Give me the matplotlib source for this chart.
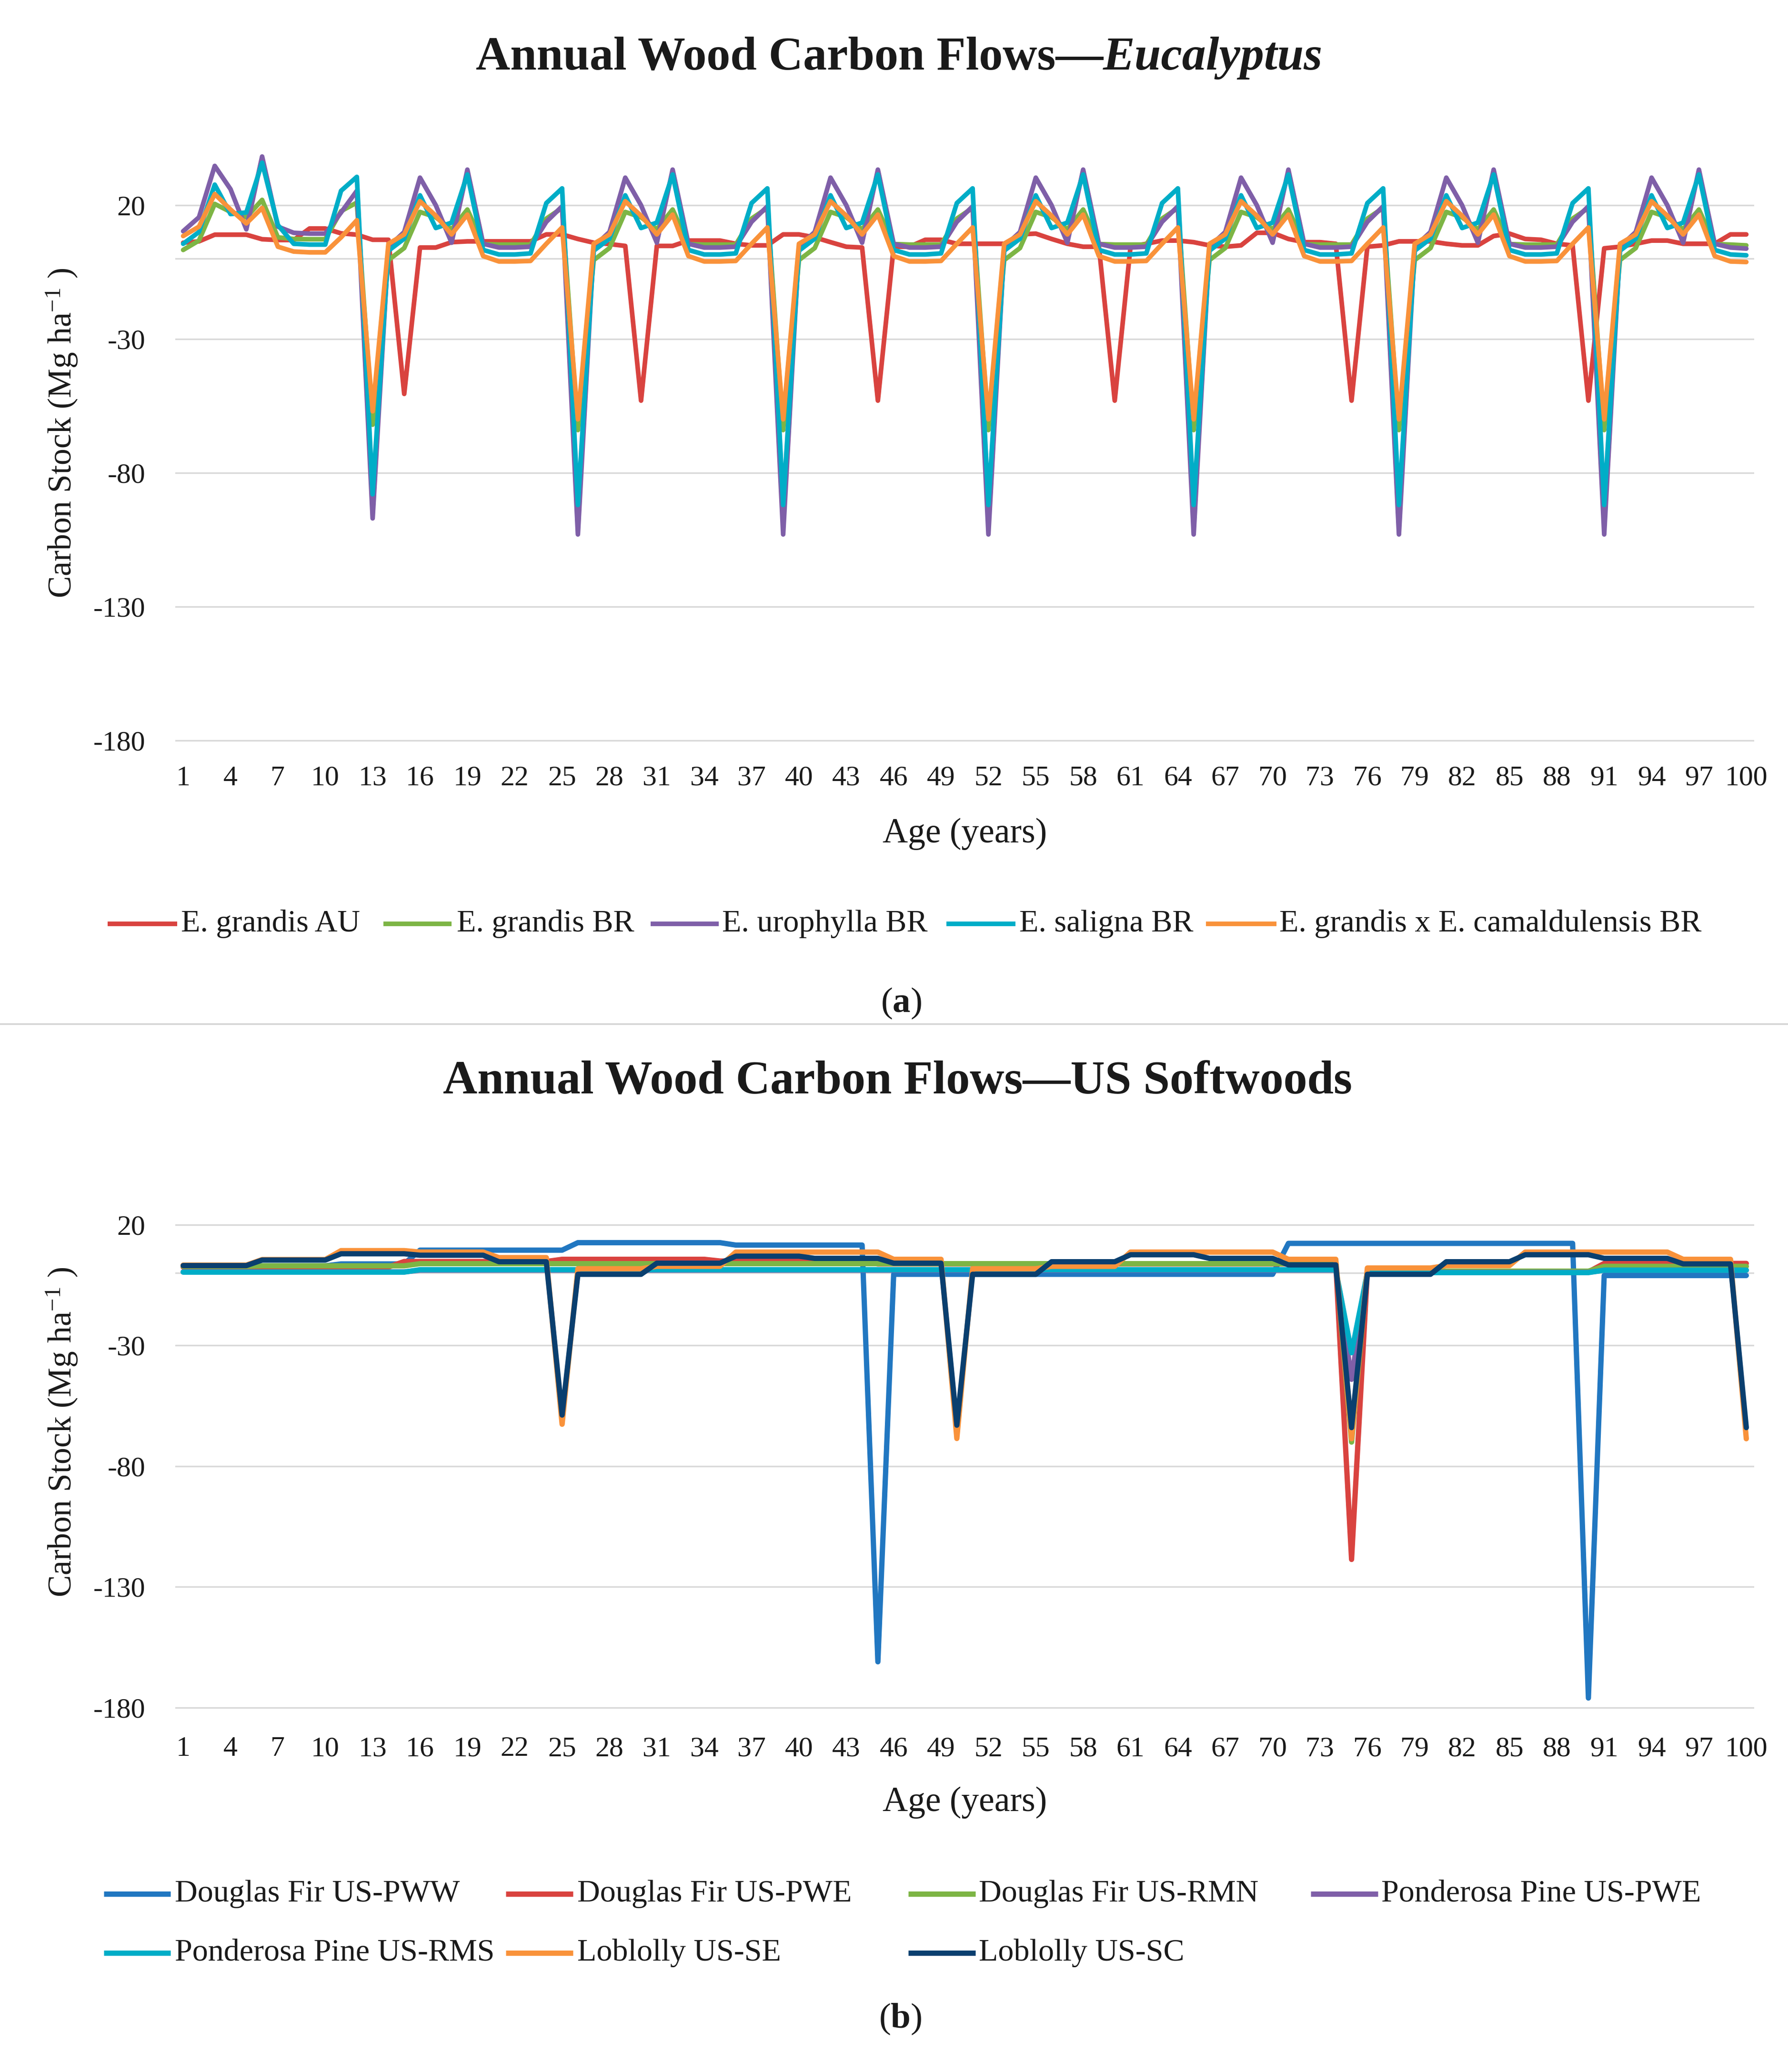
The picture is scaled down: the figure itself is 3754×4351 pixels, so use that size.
import matplotlib
matplotlib.use('Agg')
import numpy as np
import matplotlib.pyplot as plt
from matplotlib.lines import Line2D

# fonts - Palatino-ish look, closest we have is Liberation Serif
plt.rcParams['font.family'] = 'Liberation Serif'
plt.rcParams['mathtext.fontset'] = 'custom'
plt.rcParams['mathtext.rm'] = 'Liberation Serif'
plt.rcParams['mathtext.bf'] = 'Liberation Serif:bold'
plt.rcParams['mathtext.it'] = 'Liberation Serif:italic'
plt.rcParams['axes.unicode_minus'] = False

# ---------------- data ----------------
ages = np.arange(1, 101)
ytick_vals = [-180, -130, -80, -30, 20]

# (a) Eucalyptus, Mg ha-1 per year
grandis_au = [
    6.0, 6.5, 9.0, 9.0, 9.0, 7.3, 7.0, 7.0, 11.3, 11.3, 9.5, 9.0, 7.1, 7.1, -50.5,
    4.2, 4.2, 6.2, 6.5, 6.5, 6.5, 6.5, 6.5, 9.1, 9.1, 7.4, 6.0, 5.5, 4.8, -53.0,
    4.8, 4.8, 6.8, 6.8, 6.8, 5.6, 5.0, 5.0, 9.1, 9.1, 8.0, 6.2, 4.5, 4.2, -53.0,
    4.5, 4.5, 7.1, 7.1, 5.6, 5.6, 5.6, 5.6, 9.1, 9.4, 7.4, 5.6, 4.5, 4.5, -53.0,
    4.5, 5.6, 6.8, 6.8, 6.2, 5.0, 4.5, 5.0, 9.7, 9.7, 7.4, 6.2, 6.2, 5.6, -53.0,
    4.5, 5.0, 6.5, 6.5, 6.5, 5.6, 5.0, 5.0, 8.5, 9.4, 7.4, 7.1, 5.6, 5.0, -53.0,
    3.9, 4.5, 5.6, 6.8, 6.8, 5.6, 5.6, 5.6, 9.1, 9.1,
]
grandis_br = [
    3.3, 6.8, 20.5, 17.5, 15.5, 22.0, 8.0, 7.4, 7.3, 7.3, 17.8, 21.0, -62.0,
    -0.5, 4.0, 17.5, 15.5, 11.0, 18.4, 5.5, 5.3, 5.3, 5.3, 15.0, 19.0, -64.0,
    -0.5, 4.0, 17.5, 15.5, 11.0, 18.4, 5.5, 5.3, 5.3, 5.3, 15.0, 19.0, -64.0,
    -0.5, 4.0, 17.5, 15.5, 11.0, 18.4, 5.5, 5.3, 5.3, 5.3, 15.0, 19.0, -64.0,
    -0.5, 4.0, 17.5, 15.5, 11.0, 18.4, 5.5, 5.3, 5.3, 5.3, 15.0, 19.0, -64.0,
    -0.5, 4.0, 17.5, 15.5, 11.0, 18.4, 5.5, 5.3, 5.3, 5.3, 15.0, 19.0, -64.0,
    -0.5, 4.0, 17.5, 15.5, 11.0, 18.4, 5.5, 5.3, 5.3, 5.3, 15.0, 19.0, -64.0,
    -0.5, 4.0, 17.5, 15.5, 11.0, 18.4, 5.5, 5.3, 5.0,
]
urophylla_br = [
    10.3, 15.5, 34.7, 26.0, 11.0, 38.2, 12.0, 9.7, 9.4, 9.4, 17.3, 25.4, -97.0,
    4.5, 10.0, 30.3, 20.0, 6.0, 33.3, 5.6, 4.2, 4.2, 4.5, 13.8, 19.6, -103.0,
    4.5, 10.0, 30.3, 20.0, 6.0, 33.3, 5.6, 4.2, 4.2, 4.5, 13.8, 19.6, -103.0,
    4.5, 10.0, 30.3, 20.0, 6.0, 33.3, 5.6, 4.2, 4.2, 4.5, 13.8, 19.6, -103.0,
    4.5, 10.0, 30.3, 20.0, 6.0, 33.3, 5.6, 4.2, 4.2, 4.5, 13.8, 19.6, -103.0,
    4.5, 10.0, 30.3, 20.0, 6.0, 33.3, 5.6, 4.2, 4.2, 4.5, 13.8, 19.6, -103.0,
    4.5, 10.0, 30.3, 20.0, 6.0, 33.3, 5.6, 4.2, 4.2, 4.5, 13.8, 19.6, -103.0,
    4.5, 10.0, 30.3, 20.0, 6.0, 33.3, 5.6, 4.2, 3.8,
]
saligna_br = [
    5.6, 10.0, 27.7, 16.7, 17.3, 35.9, 12.6, 5.6, 5.3, 5.3, 25.4, 30.6, -88.0,
    3.0, 7.5, 23.7, 11.5, 13.5, 31.5, 3.3, 1.6, 1.6, 2.0, 20.8, 26.3, -92.0,
    3.0, 7.5, 23.7, 11.5, 13.5, 31.5, 3.3, 1.6, 1.6, 2.0, 20.8, 26.3, -92.0,
    3.0, 7.5, 23.7, 11.5, 13.5, 31.5, 3.3, 1.6, 1.6, 2.0, 20.8, 26.3, -92.0,
    3.0, 7.5, 23.7, 11.5, 13.5, 31.5, 3.3, 1.6, 1.6, 2.0, 20.8, 26.3, -92.0,
    3.0, 7.5, 23.7, 11.5, 13.5, 31.5, 3.3, 1.6, 1.6, 2.0, 20.8, 26.3, -92.0,
    3.0, 7.5, 23.7, 11.5, 13.5, 31.5, 3.3, 1.6, 1.6, 2.0, 20.8, 26.3, -92.0,
    3.0, 7.5, 23.7, 11.5, 13.5, 31.5, 3.3, 1.6, 1.3,
]
grandis_x_cam = [
    8.5, 12.0, 24.2, 18.4, 13.2, 19.0, 4.5, 2.7, 2.4, 2.4, 8.0, 14.4, -57.0,
    5.6, 9.1, 21.5, 16.1, 9.1, 16.5, 1.0, -1.0, -1.0, -0.8, 5.6, 11.7, -60.0,
    5.6, 9.1, 21.5, 16.1, 9.1, 16.5, 1.0, -1.0, -1.0, -0.8, 5.6, 11.7, -60.0,
    5.6, 9.1, 21.5, 16.1, 9.1, 16.5, 1.0, -1.0, -1.0, -0.8, 5.6, 11.7, -60.0,
    5.6, 9.1, 21.5, 16.1, 9.1, 16.5, 1.0, -1.0, -1.0, -0.8, 5.6, 11.7, -60.0,
    5.6, 9.1, 21.5, 16.1, 9.1, 16.5, 1.0, -1.0, -1.0, -0.8, 5.6, 11.7, -60.0,
    5.6, 9.1, 21.5, 16.1, 9.1, 16.5, 1.0, -1.0, -1.0, -0.8, 5.6, 11.7, -60.0,
    5.6, 9.1, 21.5, 16.1, 9.1, 16.5, 1.0, -1.0, -1.2,
]

# (b) US softwoods
df_pww = [
    3.0, 3.0, 3.0, 3.0, 3.0, 3.0, 3.0, 3.0, 3.0, 3.0,
    3.8, 3.8, 3.8, 3.8, 3.8, 9.5, 9.5, 9.5, 9.5, 9.5,
    9.5, 9.5, 9.5, 9.5, 9.5, 12.6, 12.6, 12.6, 12.6, 12.6,
    12.6, 12.6, 12.6, 12.6, 12.6, 11.6, 11.6, 11.6, 11.6, 11.6,
    11.6, 11.6, 11.6, 11.6, -161.0, -0.5, -0.5, -0.5, -0.5, -0.5,
    -0.5, -0.5, -0.5, -0.5, -0.5, -0.5, -0.5, -0.5, -0.5, -0.5,
    -0.5, -0.5, -0.5, -0.5, -0.5, -0.5, -0.5, -0.5, -0.5, -0.5,
    12.3, 12.3, 12.3, 12.3, 12.3, 12.3, 12.3, 12.3, 12.3, 12.3,
    12.3, 12.3, 12.3, 12.3, 12.3, 12.3, 12.3, 12.3, 12.3, -176.0,
    -1.0, -1.0, -1.0, -1.0, -1.0, -1.0, -1.0, -1.0, -1.0, -1.0,
]
df_pwe = [
    2.5, 2.5, 2.5, 2.5, 2.5, 2.5, 2.5, 2.5, 2.5, 2.5,
    2.5, 2.5, 2.5, 2.5, 4.8, 4.8, 4.8, 4.8, 4.8, 4.8,
    4.8, 4.8, 4.8, 4.8, 5.7, 5.7, 5.7, 5.7, 5.7, 5.7,
    5.7, 5.7, 5.7, 5.7, 5.0, 5.0, 5.0, 5.0, 5.0, 5.0,
    5.0, 5.0, 5.0, 5.0, 3.8, 3.8, 3.8, 3.8, 3.8, 3.8,
    3.8, 3.8, 3.8, 3.8, 3.8, 3.8, 3.8, 3.8, 3.8, 3.8,
    3.8, 3.8, 3.8, 3.8, 3.8, 3.8, 3.8, 3.8, 3.8, 3.8,
    3.8, 3.8, 3.8, 3.8, -118.6, 0.5, 0.5, 0.5, 0.5, 0.5,
    0.5, 0.5, 0.5, 0.5, 0.5, 0.5, 0.5, 0.5, 0.5, 0.5,
    4.0, 4.0, 4.0, 4.0, 4.0, 4.0, 4.0, 4.0, 4.0, 4.0,
]
df_rmn = [
    2.8, 2.8, 2.8, 2.8, 2.8, 3.0, 3.0, 3.0, 3.0, 3.0,
    3.0, 3.0, 3.0, 3.0, 3.0, 3.9, 3.9, 3.9, 3.9, 3.9,
    3.9, 3.9, 3.9, 3.9, 3.9, 3.9, 3.9, 3.9, 3.9, 3.9,
    3.9, 3.9, 3.9, 3.9, 3.9, 3.9, 3.9, 3.9, 3.9, 3.9,
    3.9, 3.9, 3.9, 3.9, 3.9, 3.9, 3.9, 3.9, 3.9, 3.9,
    3.9, 3.9, 3.9, 3.9, 3.9, 3.9, 3.9, 3.9, 3.9, 3.9,
    3.9, 3.9, 3.9, 3.9, 3.9, 3.9, 3.9, 3.9, 3.9, 3.9,
    3.9, 3.9, 3.9, 3.9, -70.0, 0.8, 0.8, 0.8, 0.8, 0.8,
    0.8, 0.8, 0.8, 0.8, 0.8, 0.8, 0.8, 0.8, 0.8, 0.8,
    2.8, 2.8, 2.8, 2.8, 2.8, 2.8, 2.8, 2.8, 2.8, 2.8,
]
pp_pwe = [
    0.5, 0.5, 0.5, 0.5, 0.5, 0.5, 0.5, 0.5, 0.5, 0.5,
    0.5, 0.5, 0.5, 0.5, 0.5, 1.2, 1.2, 1.2, 1.2, 1.2,
    1.2, 1.2, 1.2, 1.2, 1.2, 1.2, 1.2, 1.2, 1.2, 1.2,
    1.2, 1.2, 1.2, 1.2, 1.2, 1.2, 1.2, 1.2, 1.2, 1.2,
    1.2, 1.2, 1.2, 1.2, 1.2, 1.2, 1.2, 1.2, 1.2, 1.2,
    1.2, 1.2, 1.2, 1.2, 1.2, 1.2, 1.2, 1.2, 1.2, 1.2,
    1.2, 1.2, 1.2, 1.2, 1.2, 1.2, 1.2, 1.2, 1.2, 1.2,
    1.2, 1.2, 1.2, 1.2, -44.0, 0.3, 0.3, 0.3, 0.3, 0.3,
    0.3, 0.3, 0.3, 0.3, 0.3, 0.3, 0.3, 0.3, 0.3, 0.3,
    1.2, 1.2, 1.2, 1.2, 1.2, 1.2, 1.2, 1.2, 1.2, 1.2,
]
pp_rms = [
    0.4, 0.4, 0.4, 0.4, 0.4, 0.4, 0.4, 0.4, 0.4, 0.4,
    0.4, 0.4, 0.4, 0.4, 0.4, 1.4, 1.4, 1.4, 1.4, 1.4,
    1.4, 1.4, 1.4, 1.4, 1.4, 1.4, 1.4, 1.4, 1.4, 1.4,
    1.4, 1.4, 1.4, 1.4, 1.4, 1.4, 1.4, 1.4, 1.4, 1.4,
    1.4, 1.4, 1.4, 1.4, 1.4, 1.4, 1.4, 1.4, 1.4, 1.4,
    1.4, 1.4, 1.4, 1.4, 1.4, 1.4, 1.4, 1.4, 1.4, 1.4,
    1.4, 1.4, 1.4, 1.4, 1.4, 1.4, 1.4, 1.4, 1.4, 1.4,
    1.4, 1.4, 1.4, 1.4, -33.0, 0.2, 0.2, 0.2, 0.2, 0.2,
    0.2, 0.2, 0.2, 0.2, 0.2, 0.2, 0.2, 0.2, 0.2, 0.2,
    1.2, 1.2, 1.2, 1.2, 1.2, 1.2, 1.2, 1.2, 1.2, 1.2,
]
lob_se = [
    3.3, 3.3, 3.3, 3.3, 3.3, 5.6, 5.6, 5.6, 5.6, 5.6,
    9.3, 9.3, 9.3, 9.3, 9.3, 8.7, 8.7, 8.7, 8.7, 8.7,
    6.4, 6.4, 6.4, 6.4, -62.6, 1.8, 1.8, 1.8, 1.8, 1.8,
    2.8, 2.8, 2.8, 2.8, 2.8, 8.7, 8.7, 8.7, 8.7, 8.7,
    8.7, 8.7, 8.7, 8.7, 8.7, 5.7, 5.7, 5.7, 5.7, -68.5,
    1.8, 1.8, 1.8, 1.8, 1.8, 2.8, 2.8, 2.8, 2.8, 2.8,
    8.7, 8.7, 8.7, 8.7, 8.7, 8.7, 8.7, 8.7, 8.7, 8.7,
    5.7, 5.7, 5.7, 5.7, -68.6, 2.1, 2.1, 2.1, 2.1, 2.1,
    3.1, 3.1, 3.1, 3.1, 3.1, 8.7, 8.7, 8.7, 8.7, 8.7,
    8.7, 8.7, 8.7, 8.7, 8.7, 5.7, 5.7, 5.7, 5.7, -68.6,
]
lob_sc = [
    3.1, 3.1, 3.1, 3.1, 3.1, 5.4, 5.4, 5.4, 5.4, 5.4,
    8.0, 8.0, 8.0, 8.0, 8.0, 7.4, 7.4, 7.4, 7.4, 7.4,
    4.7, 4.7, 4.7, 4.7, -58.8, -0.5, -0.5, -0.5, -0.5, -0.5,
    4.1, 4.1, 4.1, 4.1, 4.1, 7.0, 7.0, 7.0, 7.0, 7.0,
    6.1, 6.1, 6.1, 6.1, 6.1, 4.1, 4.1, 4.1, 4.1, -63.0,
    -0.5, -0.5, -0.5, -0.5, -0.5, 4.7, 4.7, 4.7, 4.7, 4.7,
    7.6, 7.6, 7.6, 7.6, 7.6, 6.1, 6.1, 6.1, 6.1, 6.1,
    3.4, 3.4, 3.4, 3.4, -64.0, -0.5, -0.5, -0.5, -0.5, -0.5,
    4.7, 4.7, 4.7, 4.7, 4.7, 7.6, 7.6, 7.6, 7.6, 7.6,
    6.1, 6.1, 6.1, 6.1, 6.1, 3.8, 3.8, 3.8, 3.8, -64.0,
]

series_a = [
    ('E. grandis AU', grandis_au, '#D9433F'),
    ('E. grandis BR', grandis_br, '#7DB545'),
    ('E. urophylla BR', urophylla_br, '#7F5FA8'),
    ('E. saligna BR', saligna_br, '#00ADC7'),
    ('E. grandis x E. camaldulensis BR', grandis_x_cam, '#F9923A'),
]
series_b = [
    ('Douglas Fir US-PWW', df_pww, '#2177C1'),
    ('Douglas Fir US-PWE', df_pwe, '#D9433F'),
    ('Douglas Fir US-RMN', df_rmn, '#7DB545'),
    ('Ponderosa Pine US-PWE', pp_pwe, '#7F5FA8'),
    ('Ponderosa Pine US-RMS', pp_rms, '#00ADC7'),
    ('Loblolly US-SE', lob_se, '#F9923A'),
    ('Loblolly US-SC', lob_sc, '#0A3F6F'),
]

# ---------------- figure ----------------
W, H = 3755, 4351
fig = plt.figure(figsize=(W / 100, H / 100), dpi=100)
TXT = '#1a1a1a'
GRID = '#D9D9D9'
LW_A, LW_B = 7.0, 8.0


def px(x, y):
    # pixel (from top-left) -> figure fraction
    return x / W, 1 - y / H


def make_axes(rect, data, lw, tick_pad_x, xlab_y, ylab_y):
    ax = fig.add_axes(rect)
    for name, vals, col in data:
        ax.plot(ages, vals, color=col, lw=lw, solid_joinstyle='round',
                solid_capstyle='round', label=name)
    ax.set_xlim(0.5, 100.5)
    ax.set_ylim(-182, 45)
    ax.set_yticks(ytick_vals)
    ax.set_xticks(ages[::3])
    for s in ax.spines.values():
        s.set_visible(False)
    ax.grid(axis='y', color=GRID, lw=2.4)
    ax.axhline(0, color=GRID, lw=2.4, zorder=0.5)
    ax.set_axisbelow(True)
    ax.tick_params(axis='both', length=0, labelsize=43, colors=TXT)
    ax.tick_params(axis='y', pad=45)
    ax.tick_params(axis='x', pad=tick_pad_x)
    ax.set_xlabel('Age (years)', fontsize=53, color=TXT, va='center')
    ax.xaxis.set_label_coords(0.5, xlab_y)
    ax.set_ylabel('Carbon Stock (Mg ha$^{-1}$ )', fontsize=50, color=TXT, va='center')
    ax.yaxis.set_label_coords(-0.0718, ylab_y)
    return ax


# axes positions worked out from the reference pixels
ax_a = make_axes([368 / W, 2784.8 / H, 3315 / W, 1275.7 / H], series_a, LW_A, 30, -0.145, 0.515)
ax_b = make_axes([368 / W, 754.9 / H, 3315 / W, 1150.9 / H], series_b, LW_B, 36, -0.164, 0.512)

# titles
renderer = fig.canvas.get_renderer()
xa, ya = px(1888, 122)
t1 = fig.text(0, ya, 'Annual Wood Carbon Flows\u2014', fontsize=72, weight='bold',
              va='center', ha='left', color=TXT)
t2 = fig.text(0, ya, 'Eucalyptus', fontsize=72, weight='bold', style='italic',
              va='center', ha='left', color=TXT)
w1 = t1.get_window_extent(renderer).width
w2 = t2.get_window_extent(renderer).width
x0 = xa * W - (w1 + w2) / 2
t1.set_x(x0 / W)
t2.set_x((x0 + w1) / W)

xb, yb = px(1884, 2272)
fig.text(xb, yb, 'Annual Wood Carbon Flows\u2014US Softwoods', fontsize=72, weight='bold',
         ha='center', va='center', color=TXT)


# legends, laid out like the excel ones
def legend_entry(x0, x1, xt, y, color, label, lw):
    fx0, fy = px(x0, y)
    fx1, _ = px(x1, y)
    fig.add_artist(Line2D([fx0, fx1], [fy, fy], transform=fig.transFigure,
                          color=color, lw=lw, solid_capstyle='butt'))
    fig.text(px(xt, y)[0], fy, label, fontsize=47.5, va='center', ha='left', color=TXT)


leg_a = [(226, 372, 380), (805, 948, 959), (1366, 1509, 1516), (1987, 2132, 2140), (2532, 2680, 2686)]
for (x0, x1, xt), (name, vals, col) in zip(leg_a, series_a):
    legend_entry(x0, x1, xt, 1940, col, name, LW_A)

leg_b = [(218, 358, 367, 3977), (1062, 1203, 1212, 3977), (1907, 2048, 2055, 3977),
         (2752, 2893, 2900, 3977), (218, 358, 367, 4101), (1062, 1203, 1212, 4101),
         (1907, 2048, 2055, 4101)]
for (x0, x1, xt, y), (name, vals, col) in zip(leg_b, series_b):
    legend_entry(x0, x1, xt, y, col, name, LW_B)

# panel letters + separator
fig.text(*px(1892, 2107), r'($\mathbf{a}$)', fontsize=54, ha='center', va='center', color=TXT)
fig.text(*px(1890, 4240), r'($\mathbf{b}$)', fontsize=54, ha='center', va='center', color=TXT)
sep_y = px(0, 2150)[1]
fig.add_artist(Line2D([0, 1], [sep_y, sep_y], transform=fig.transFigure, color='#D4D4D4', lw=2.5))

fig.savefig('out.png', dpi=100, facecolor='white')
